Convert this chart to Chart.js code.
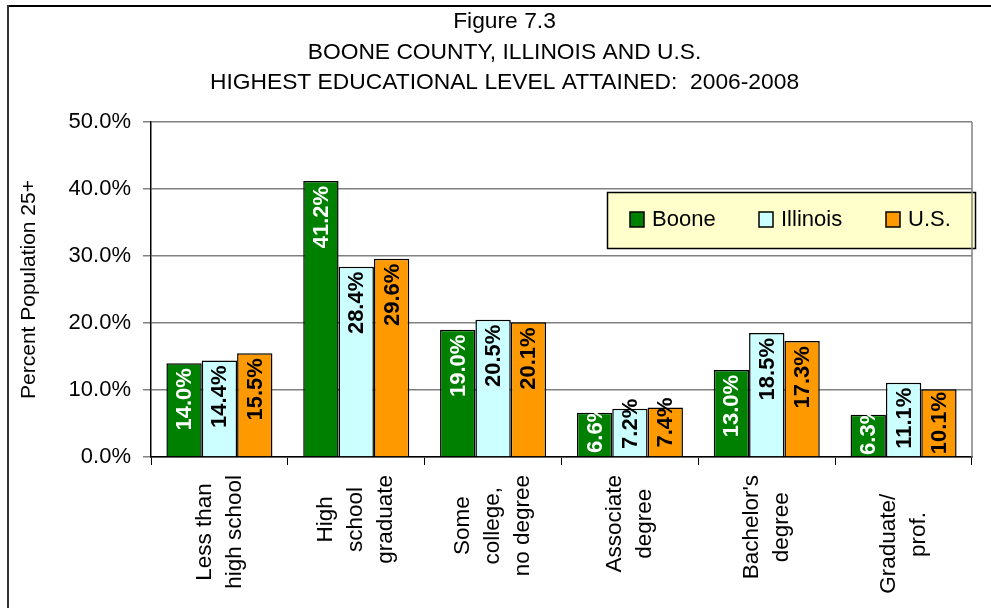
<!DOCTYPE html>
<html><head><meta charset="utf-8">
<script src="https://cdn.jsdelivr.net/npm/chart.js@4"></script>
<style>html,body{margin:0;padding:0;background:#fff;overflow:hidden}canvas{display:block}</style>
</head><body>
<canvas id="c" width="991" height="608"></canvas>
<script>
// ---- data ----
const categories = [["Less than","high school"],["High","school","graduate"],["Some","college,","no degree"],["Associate","degree"],["Bachelor's","degree"],["Graduate/   ","prof."]];
const seriesNames = ["Boone","Illinois","U.S."];
const boone = [14.0,41.2,19.0,6.6,13.0,6.3];
const illinois = [14.4,28.4,20.5,7.2,18.5,11.1];
const us = [15.5,29.6,20.1,7.4,17.3,10.1];
const yTicks = [0,10,20,30,40,50];
const titleLines = ["Figure 7.3","BOONE COUNTY, ILLINOIS AND U.S.","HIGHEST EDUCATIONAL LEVEL ATTAINED:  2006-2008"];
const yTitle = "Percent Population 25+";

// ---- style ----
const FONT = '"Liberation Sans", Arial, Helvetica, sans-serif';
const fills = ['#008000','#CCFFFF','#FF9900'];
const labelColors = ['#ffffff','#000000','#000000'];

const deco = {
  id:'deco',
  beforeDraw(chart){
    const ctx = chart.ctx;
    ctx.save();
    ctx.fillStyle = '#fff';
    ctx.fillRect(0,0,chart.width,chart.height);
    ctx.strokeStyle = '#000'; ctx.lineWidth = 2;
    ctx.beginPath(); ctx.moveTo(7,6); ctx.lineTo(chart.width,6); ctx.stroke();
    ctx.strokeStyle = '#333';
    ctx.beginPath(); ctx.moveTo(8,5); ctx.lineTo(8,chart.height); ctx.stroke();
    // title
    ctx.fillStyle = '#000';
    ctx.font = '22.8px ' + FONT;
    ctx.textAlign = 'center'; ctx.textBaseline = 'middle';
    titleLines.forEach((t,i)=>ctx.fillText(t, 504.5, 22 + i*30.5));
    ctx.restore();
  },
  afterDatasetsDraw(chart){
    const ctx = chart.ctx, ca = chart.chartArea;
    chart.data.datasets.forEach((ds,di)=>{
      const meta = chart.getDatasetMeta(di);
      meta.data.forEach((bar,i)=>{
        ctx.save();
        ctx.beginPath(); ctx.rect(ca.left, ca.top, ca.right-ca.left, ca.bottom-ca.top); ctx.clip();
        ctx.font = 'bold 22px ' + FONT;
        const txt = ds.data[i].toFixed(1) + '%';
        const len = ctx.measureText(txt).width;
        const h = bar.base - bar.y;
        const anchorY = (len > h - 2) ? bar.y - 10 : bar.y + Math.min(5, Math.max(1, h - len - 2));
        ctx.translate(bar.x + 1, anchorY);
        ctx.rotate(-Math.PI/2);
        ctx.fillStyle = labelColors[di];
        ctx.textAlign = 'right'; ctx.textBaseline = 'middle';
        ctx.fillText(txt, 0, 0);
        ctx.restore();
      });
    });
  },
  afterDraw(chart){
    const ctx = chart.ctx, ca = chart.chartArea, xs = chart.scales.x;
    ctx.save();
    // x labels
    ctx.font = '22.5px ' + FONT; ctx.fillStyle = '#000';
    ctx.textAlign = 'center'; ctx.textBaseline = 'middle';
    chart.data.labels.forEach((lines,i)=>{
      const cx = xs.getPixelForValue(i);
      const maxW = Math.max(...lines.map(l=>ctx.measureText(l).width));
      const cy = ca.bottom + 18 + maxW/2;
      lines.forEach((l,j)=>{
        const x = cx + (j - (lines.length-1)/2) * 30;
        ctx.save(); ctx.translate(x, cy); ctx.rotate(-Math.PI/2); ctx.fillText(l,0,0); ctx.restore();
      });
    });
    // legend
    const lx = 607, ly = 192, lw = 368, lh = 56;
    ctx.fillStyle = '#FFFFCC'; ctx.fillRect(lx, ly, lw, lh);
    ctx.strokeStyle = '#000'; ctx.lineWidth = 1.5; ctx.strokeRect(lx+0.5, ly+0.5, lw, lh);
    const itemX = [630, 759, 886];
    chart.data.datasets.forEach((ds,di)=>{
      ctx.fillStyle = ds.backgroundColor; ctx.fillRect(itemX[di], 212, 14, 15);
      ctx.strokeStyle = '#000'; ctx.lineWidth = 1.5; ctx.strokeRect(itemX[di], 212, 14, 15);
      ctx.fillStyle = '#000'; ctx.font = '22px ' + FONT;
      ctx.textAlign = 'left'; ctx.textBaseline = 'middle';
      ctx.fillText(ds.label, itemX[di] + 22, 220);
    });
    // plot area right border
    ctx.strokeStyle = '#808080'; ctx.lineWidth = 1.5;
    ctx.beginPath(); ctx.moveTo(ca.right, ca.top); ctx.lineTo(ca.right, ca.bottom); ctx.stroke();
    ctx.restore();
  }
};

const series = [boone, illinois, us];
new Chart(document.getElementById('c'), {
  type: 'bar',
  data: {
    labels: categories,
    datasets: series.map((d,i)=>({
      label: seriesNames[i], data: d, backgroundColor: fills[i],
      borderColor: '#000', borderWidth: 1.5
    }))
  },
  options: {
    responsive: false, animation: false, devicePixelRatio: 1,
    layout: { padding: { left: 8, right: 19, top: 122, bottom: 0 } },
    datasets: { bar: { categoryPercentage: 0.775, barPercentage: 1 } },
    plugins: { legend: { display: false }, title: { display: false }, tooltip: { enabled: false } },
    scales: {
      x: {
        grid: { offset: true, drawOnChartArea: false, tickLength: 8, color: '#000' },
        border: { color: '#000', width: 1.5 },
        ticks: { display: false },
        afterFit(s){ s.height = 151; }
      },
      y: {
        min: 0, max: 50,
        afterBuildTicks(s){ s.ticks = yTicks.map(v=>({value:v})); },
        ticks: { callback: v => v.toFixed(1) + '%', font: { size: 22, family: FONT }, color: '#000', padding: 12 },
        grid: { color: '#808080', tickLength: 8, lineWidth: 1.5 },
        border: { color: '#000', width: 1.5 },
        title: { display: true, text: yTitle, font: { size: 21, family: FONT }, color: '#000', padding: { top: 9, bottom: 0 } },
        afterFit(s){ s.width = 143; }
      }
    }
  },
  plugins: [deco]
});
</script>
</body></html>
